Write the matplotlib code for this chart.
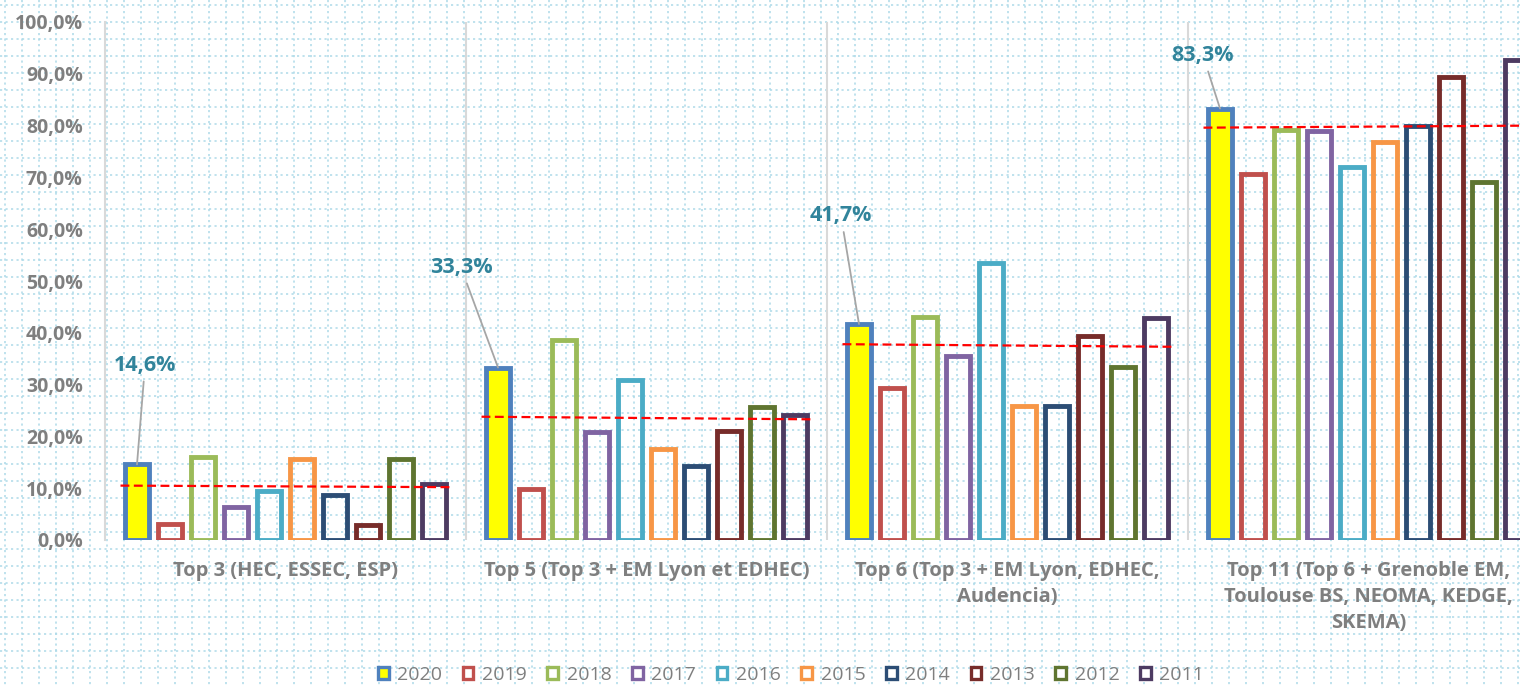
import matplotlib
matplotlib.use("Agg")
import matplotlib.pyplot as plt
from matplotlib.patches import Patch
import numpy as np

plt.rcParams['font.family'] = ['Open Sans', 'DejaVu Sans']

# ---------------- data ----------------
categories = [
    "Top 3 (HEC, ESSEC, ESP)",
    "Top 5 (Top 3 + EM Lyon et EDHEC)",
    "Top 6 (Top 3 + EM Lyon, EDHEC,\nAudencia)",
    "Top 11 (Top 6 + Grenoble EM,\nToulouse BS, NEOMA, KEDGE,\nSKEMA)",
]
years = ["2020", "2019", "2018", "2017", "2016", "2015", "2014", "2013", "2012", "2011"]
v2020 = [14.6, 33.3, 41.7, 83.3]
v2019 = [3.0, 9.8, 29.3, 70.6]
v2018 = [16.0, 38.6, 43.0, 79.2]
v2017 = [6.3, 20.8, 35.5, 79.0]
v2016 = [9.4, 30.9, 53.5, 72.0]
v2015 = [15.6, 17.5, 25.9, 76.8]
v2014 = [8.7, 14.3, 25.9, 80.0]
v2013 = [2.8, 21.0, 39.4, 89.4]
v2012 = [15.6, 25.6, 33.4, 69.2]
v2011 = [10.9, 24.1, 42.9, 92.7]
series = [v2020, v2019, v2018, v2017, v2016, v2015, v2014, v2013, v2012, v2011]
trend_start = [10.5, 23.8, 37.8, 79.6]
trend_end = [10.2, 23.3, 37.3, 80.0]
label_texts = ["14,6%", "33,3%", "41,7%", "83,3%"]
label_offsets_px = [(8, 99), (-37, 100), (-18, 108), (-17, 53)]

colors = ['#4F81BD', '#C0504D', '#9BBB59', '#8064A2', '#4BACC6',
          '#F79646', '#2C4D75', '#772C2A', '#5F7530', '#4D3B62']
fills = ['#FFFF00'] + ['none'] * 9

W, H = 1520, 685
fig = plt.figure(figsize=(W / 100, H / 100), dpi=100)

# ---------------- background dotted grid ----------------
bg = fig.add_axes([0, 0, 1, 1], zorder=-10)
bg.set_xlim(0, W)
bg.set_ylim(H, 0)
bg.axis('off')
grid_col = '#ADDAE8'
for x in np.arange(5, W, 17):
    bg.plot([x, x], [0, H], color=grid_col, lw=1.1, ls=(0, (1.4, 2.2)))
for y in np.arange(5, H, 17):
    bg.plot([0, W], [y, y], color=grid_col, lw=1.1, ls=(0, (1.4, 2.2)))

# ---------------- main axes ----------------
left = 105 / W
bottom = 1 - 540 / H
height = (540 - 22) / H
width = 4 * 361 / W
ax = fig.add_axes([left, bottom, width, height])
ax.set_facecolor('none')
ax.set_xlim(0, 4)
ax.set_ylim(0, 100)

pitch = 33 / 361
bw = 24 / 361
ngroups = len(categories)
for i, (vals, c, f) in enumerate(zip(series, colors, fills)):
    xs = np.arange(ngroups) + 0.5 + (i - 4.5) * pitch
    ax.bar(xs, vals, width=bw, facecolor=f, edgecolor=c, linewidth=3.5, zorder=3)

# trend lines
for g in range(ngroups):
    x0 = g + 0.5 - 5 * pitch
    x1 = g + 0.5 + 5 * pitch
    ax.plot([x0, x1], [trend_start[g], trend_end[g]], color='#FF0000', lw=1.6,
            ls=(0, (4, 2)), zorder=4, clip_on=False)

# annotations
for g in range(ngroups):
    xb = g + 0.5 - 4.5 * pitch
    ax.annotate(label_texts[g], xy=(xb, v2020[g]), xytext=label_offsets_px[g],
                textcoords='offset pixels', ha='center', va='center',
                fontsize=15.5, fontweight='bold', color='#31849B',
                arrowprops=dict(arrowstyle='-', color='#A6A6A6', lw=1.3,
                                shrinkA=2, shrinkB=0),
                zorder=5)

# separators & spines
for s in ['top', 'right', 'bottom']:
    ax.spines[s].set_visible(False)
ax.spines['left'].set_color('#D9D9D9')
ax.spines['left'].set_linewidth(1.5)
for g in range(1, ngroups):
    ax.axvline(g, color='#D9D9D9', lw=1.5, zorder=1)

ax.set_yticks(np.arange(0, 101, 10))
ax.set_yticklabels([f"{v:.1f}%".replace('.', ',') for v in np.arange(0, 101, 10)],
                   fontsize=14, fontweight='bold', color='#7F7F7F')
ax.tick_params(axis='y', length=0, pad=16)
ax.set_xticks(np.arange(ngroups) + 0.5)
ax.set_xticklabels(categories, fontsize=14.5, fontweight='bold', color='#7F7F7F',
                   linespacing=1.42)
ax.tick_params(axis='x', length=0, pad=15)

# legend
handles = [Patch(facecolor=('#FFFF00' if i == 0 else 'white'), edgecolor=c, linewidth=2.4)
           for i, c in enumerate(colors)]
fig.legend(handles, years, loc='center', bbox_to_anchor=(791 / W, 1 - 675 / H),
           ncol=10, frameon=False, fontsize=14, labelcolor='#7F7F7F',
           handlelength=0.55, handleheight=0.55, handletextpad=0.45,
           columnspacing=1.05, borderaxespad=0, borderpad=0)

fig.savefig('out.png', dpi=100)
